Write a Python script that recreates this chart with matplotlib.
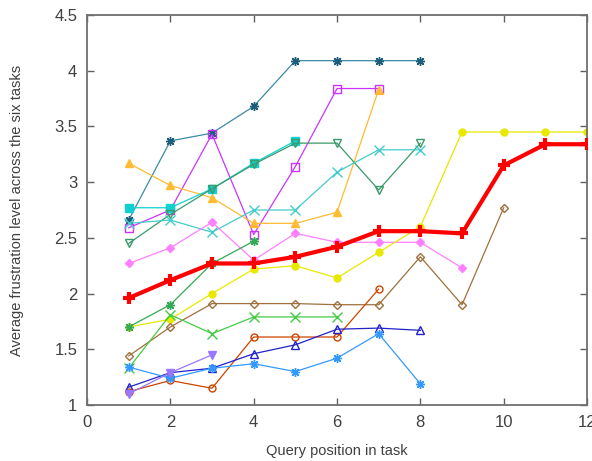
import matplotlib
matplotlib.use("Agg")
import matplotlib.pyplot as plt

plt.rcParams['font.family'] = ['Liberation Sans', 'DejaVu Sans']

# per-series values, position in task starts at 1
teal_star = [2.66, 3.37, 3.44, 3.68, 4.09, 4.09, 4.09, 4.09]
magenta_sq = [2.59, 2.75, 3.43, 2.53, 3.14, 3.84, 3.84]
orange_tri = [3.17, 2.97, 2.86, 2.63, 2.63, 2.73, 3.83]
cyan_sq = [2.77, 2.77, 2.94, 3.17, 3.37]
green_tri = [2.45, 2.71, 2.94, 3.16, 3.35, 3.35, 2.93, 3.35]
cyan_x = [2.63, 2.66, 2.55, 2.75, 2.75, 3.09, 3.29, 3.29]
pink_dia = [2.27, 2.41, 2.64, 2.30, 2.54, 2.46, 2.46, 2.46, 2.23]
yellow_circ = [1.70, 1.77, 2.00, 2.22, 2.25, 2.14, 2.37, 2.60, 3.45, 3.45, 3.45, 3.45]
brown_dia = [1.44, 1.70, 1.91, 1.91, 1.91, 1.90, 1.90, 2.33, 1.90, 2.77]
green_x = [1.33, 1.81, 1.64, 1.79, 1.79, 1.79]
green_plus = [1.70, 1.90, 2.27, 2.47]
rust_circ = [1.12, 1.22, 1.15, 1.61, 1.61, 1.61, 2.04]
blue_tri = [1.16, 1.29, 1.33, 1.46, 1.54, 1.68, 1.69, 1.67]
sky_star = [1.34, 1.24, 1.33, 1.37, 1.30, 1.42, 1.64, 1.19]
lavender_tri = [1.10, 1.29, 1.45]
average = [1.96, 2.12, 2.27, 2.27, 2.33, 2.42, 2.56, 2.56, 2.54, 3.15, 3.34, 3.34]

star = (8, 2, 0)

series = [
    (teal_star, '#3a8aa6', star, '#1d5d7c', 6.5),
    (magenta_sq, '#cc33ff', 's', 'none', 5.5),
    (orange_tri, '#ffbb33', '^', None, 6),
    (cyan_sq, '#11d0d0', 's', None, 5.5),
    (green_tri, '#3a9a6a', 'v', 'none', 6),
    (cyan_x, '#44cccc', 'x', None, 6.5),
    (pink_dia, '#ff80ff', 'D', None, 4.5),
    (yellow_circ, '#e8e800', 'o', None, 5),
    (brown_dia, '#a0703c', 'D', 'none', 4.5),
    (green_x, '#44cc44', 'x', None, 6.5),
    (green_plus, '#33aa55', star, None, 6.5),
    (rust_circ, '#cc4400', 'o', 'none', 5),
    (blue_tri, '#2222cc', '^', 'none', 5.5),
    (sky_star, '#3399ff', star, None, 6.5),
    (lavender_tri, '#9977ff', 'v', None, 6),
]

fig = plt.figure(figsize=(5.92, 4.61), dpi=100)
ax = fig.add_axes([0.147, 0.1215, 0.8446, 0.846])

for vals, col, mk, face, ms in series:
    xs = list(range(1, len(vals) + 1))
    mfc = col if face is None else face
    mec = col if face in (None, 'none') else face
    ax.plot(xs, vals, color=col, lw=0.9, marker=mk, ms=ms,
            mfc=mfc, mec=mec, mew=1.0)

ax.plot(range(1, len(average) + 1), average, color='#ff0000', lw=3.0,
        marker='+', ms=9, mew=3, zorder=5)

ax.set_xlim(0, 12)
ax.set_ylim(1, 4.5)
ax.set_xticks(range(0, 13, 2))
ax.set_yticks([1, 1.5, 2, 2.5, 3, 3.5, 4, 4.5])
ax.set_yticklabels(['1', '1.5', '2', '2.5', '3', '3.5', '4', '4.5'])
ax.tick_params(direction='in', top=True, right=True, length=5, width=1,
               color='#606060', labelsize=12, labelcolor='#404040', pad=7)
for s in ax.spines.values():
    s.set_color('#707070')
    s.set_linewidth(1.3)

ax.set_xlabel('Query position in task', fontsize=10.5, color='#404040', labelpad=10)
ax.set_ylabel('Average frustration level across the six tasks', fontsize=10.5,
              color='#404040', labelpad=22)

fig.savefig('out.png', dpi=100)
